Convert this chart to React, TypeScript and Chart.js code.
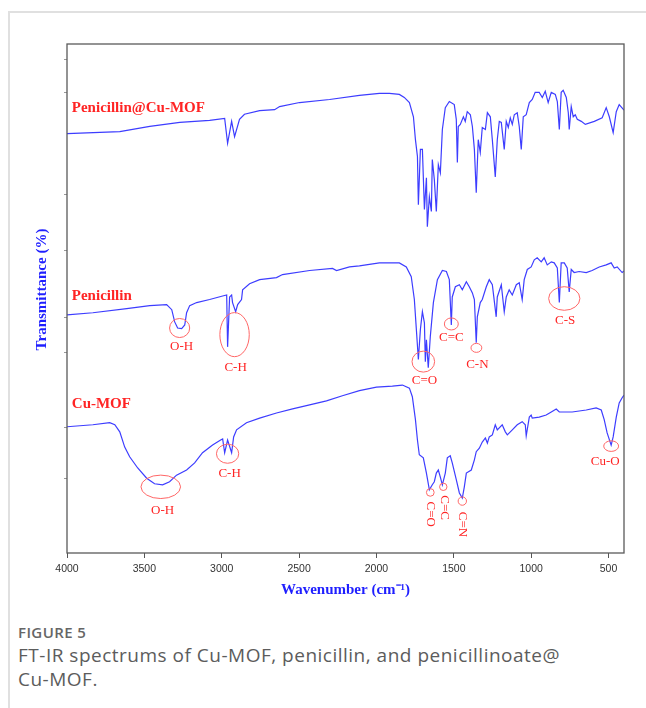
import React, { useEffect, useRef } from "react";
import { Chart, registerables } from "chart.js";
Chart.register(...registerables);

// [wavenumber (cm-1), transmittance (arbitrary offset units)]
const penicillinCuMOF: [number, number][] = [
  [4000, 82.4], [3659, 82.8], [3465, 83.8], [3271, 84.6], [3078, 85.0], [2981, 85.4], [2962, 80.5], [2936, 84.8],
  [2917, 81.8], [2885, 85.2], [2853, 86.2], [2755, 86.9], [2658, 87.1], [2626, 87.7], [2497, 88.5], [2303, 89.1],
  [2110, 89.9], [1981, 90.3], [1916, 90.3], [1852, 90.1], [1820, 89.5], [1787, 88.5], [1761, 85.7], [1748, 81.2],
  [1735, 77.9], [1729, 68.4], [1716, 79.3], [1703, 79.3], [1690, 67.5], [1677, 73.7], [1671, 64.1], [1658, 70.0],
  [1645, 67.1], [1639, 77.3], [1626, 73.4], [1613, 67.1], [1600, 76.3], [1587, 74.7], [1574, 83.2], [1555, 87.5],
  [1529, 88.7], [1497, 88.1], [1484, 85.2], [1477, 76.7], [1471, 83.8], [1458, 84.2], [1438, 85.7], [1426, 84.8],
  [1413, 86.7], [1393, 86.1], [1380, 83.8], [1367, 79.3], [1355, 70.8], [1342, 81.2], [1329, 78.7], [1316, 83.6],
  [1296, 83.2], [1283, 86.5], [1264, 85.7], [1251, 81.2], [1232, 73.9], [1219, 81.2], [1206, 84.8], [1193, 84.6],
  [1174, 79.3], [1161, 84.8], [1148, 83.6], [1135, 85.5], [1122, 84.2], [1109, 86.1], [1090, 86.5], [1077, 83.8],
  [1064, 79.3], [1051, 85.7], [1032, 86.1], [1012, 88.5], [993, 89.1], [974, 90.5], [948, 90.5], [928, 89.5],
  [909, 90.7], [890, 88.5], [870, 90.5], [844, 90.1], [831, 88.7], [818, 83.2], [806, 90.5], [793, 90.9],
  [773, 89.5], [760, 86.5], [754, 83.2], [741, 87.7], [728, 85.7], [715, 86.1], [702, 85.2], [676, 84.8],
  [650, 84.2], [592, 84.8], [541, 85.5], [515, 87.5], [495, 85.7], [470, 82.6], [450, 86.7], [431, 88.1], [400, 87.0],
];

const penicillin: [number, number][] = [
  [4000, 46.8], [3833, 47.2], [3614, 48.0], [3465, 48.6], [3356, 48.8], [3323, 47.8], [3304, 45.4], [3285, 44.2],
  [3259, 44.1], [3239, 44.8], [3227, 47.2], [3207, 48.6], [3162, 49.2], [3078, 49.8], [2994, 50.5], [2968, 50.7],
  [2962, 40.5], [2949, 50.3], [2936, 50.7], [2930, 49.2], [2910, 47.4], [2897, 48.8], [2872, 49.8], [2865, 51.7],
  [2820, 52.9], [2755, 53.7], [2646, 54.1], [2607, 54.7], [2432, 55.5], [2284, 55.9], [2258, 55.5], [2174, 56.2],
  [2110, 56.4], [1981, 57.0], [1852, 57.0], [1807, 56.2], [1775, 54.3], [1755, 49.8], [1742, 43.9], [1729, 38.0],
  [1716, 43.9], [1703, 47.4], [1690, 45.2], [1684, 37.6], [1677, 41.9], [1665, 36.4], [1652, 42.5], [1632, 49.2],
  [1606, 53.7], [1574, 55.5], [1548, 55.3], [1529, 53.7], [1516, 44.8], [1510, 50.3], [1490, 52.3], [1464, 52.7],
  [1445, 51.7], [1419, 53.3], [1400, 52.3], [1380, 51.1], [1367, 49.8], [1355, 41.3], [1348, 46.4], [1329, 49.2],
  [1316, 49.8], [1290, 52.3], [1271, 53.7], [1251, 52.7], [1226, 46.4], [1219, 50.3], [1193, 52.7], [1174, 47.4],
  [1161, 50.3], [1142, 51.7], [1122, 50.7], [1096, 52.7], [1077, 53.1], [1058, 49.8], [1045, 53.7], [1025, 55.7],
  [1000, 56.2], [980, 57.6], [961, 58.0], [935, 57.2], [916, 58.0], [896, 56.6], [870, 57.2], [851, 57.0],
  [831, 56.0], [818, 49.2], [806, 57.0], [786, 57.0], [767, 56.0], [754, 51.3], [741, 55.7], [722, 55.1],
  [690, 55.3], [644, 55.1], [606, 55.5], [560, 56.2], [515, 56.6], [483, 57.0], [463, 56.0], [444, 56.2],
  [412, 55.1], [400, 55.4],
];

const cuMOF: [number, number][] = [
  [4000, 24.8], [3833, 25.2], [3724, 25.6], [3691, 25.2], [3659, 23.8], [3627, 20.8], [3595, 18.9], [3543, 16.7],
  [3485, 14.7], [3434, 13.6], [3382, 13.4], [3337, 14.0], [3292, 15.3], [3227, 16.3], [3175, 17.7], [3124, 19.7],
  [3059, 21.2], [3007, 22.2], [2994, 22.4], [2981, 19.7], [2962, 22.2], [2936, 19.7], [2923, 22.8], [2904, 24.2],
  [2840, 25.6], [2755, 26.5], [2646, 27.5], [2542, 28.3], [2432, 29.1], [2323, 29.9], [2220, 30.9], [2110, 31.9],
  [2000, 32.6], [1897, 32.8], [1832, 33.0], [1787, 32.4], [1768, 30.7], [1748, 26.2], [1735, 22.2], [1723, 19.3],
  [1697, 18.7], [1677, 15.7], [1658, 12.4], [1639, 13.4], [1626, 14.0], [1613, 15.7], [1600, 16.3], [1587, 14.9],
  [1574, 13.4], [1555, 15.7], [1542, 18.7], [1523, 19.1], [1510, 17.7], [1484, 14.4], [1464, 11.8], [1445, 10.8],
  [1432, 13.0], [1419, 15.7], [1387, 16.3], [1367, 18.3], [1355, 19.9], [1335, 20.6], [1316, 21.8], [1296, 22.6],
  [1283, 21.6], [1271, 22.8], [1251, 23.2], [1232, 25.2], [1219, 24.2], [1187, 25.2], [1167, 23.8], [1154, 23.2],
  [1122, 24.2], [1090, 25.2], [1058, 25.8], [1038, 25.2], [1032, 23.0], [1012, 26.7], [1000, 27.1], [993, 26.5],
  [948, 26.7], [903, 27.1], [870, 27.7], [838, 28.3], [818, 27.7], [735, 27.7], [644, 28.1], [580, 28.5],
  [547, 28.1], [528, 26.2], [509, 23.6], [483, 21.2], [470, 22.8], [450, 26.7], [431, 29.5], [412, 30.5], [400, 31.0],
];

const xTickValues = [4000, 3500, 3000, 2500, 2000, 1500, 1000, 500];
const yTickValues = [97.0, 90.5, 70.4, 59.4, 46.2, 39.3, 24.6, 14.7];

const sampleLabels = [
  { text: "Penicillin@Cu-MOF", wn: 3969, t: 87.5 },
  { text: "Penicillin", wn: 3969, t: 50.5 },
  { text: "Cu-MOF", wn: 3969, t: 29.3 },
];

// band marks: centre (wn, t), half-size (dwn, dt), label position (lwn, lt)
const bands = [
  { text: "O-H", wn: 3272, t: 44.2, dwn: 65, dt: 1.87, lwn: 3259, lt: 40.5, vertical: false },
  { text: "C-H", wn: 2917, t: 42.9, dwn: 95, dt: 4.33, lwn: 2910, lt: 36.4, vertical: false },
  { text: "C=O", wn: 1697, t: 37.6, dwn: 73, dt: 2.06, lwn: 1690, lt: 33.8, vertical: false },
  { text: "C=C", wn: 1516, t: 45.0, dwn: 45, dt: 1.18, lwn: 1516, lt: 42.3, vertical: false },
  { text: "C-N", wn: 1354, t: 40.3, dwn: 35, dt: 0.88, lwn: 1348, lt: 37.0, vertical: false },
  { text: "C-S", wn: 786, t: 50.0, dwn: 101, dt: 2.32, lwn: 780, lt: 45.6, vertical: false },
  { text: "O-H", wn: 3394, t: 13.0, dwn: 128, dt: 2.3, lwn: 3382, lt: 8.3, vertical: false },
  { text: "C-H", wn: 2962, t: 19.5, dwn: 72, dt: 1.87, lwn: 2949, lt: 15.7, vertical: false },
  { text: "C=O", wn: 1652, t: 11.9, dwn: 25, dt: 0.75, lwn: 1652, lt: 7.6, vertical: true },
  { text: "C=C", wn: 1568, t: 13.0, dwn: 24, dt: 0.72, lwn: 1562, lt: 8.9, vertical: true },
  { text: "C=N", wn: 1445, t: 10.2, dwn: 27, dt: 0.82, lwn: 1445, lt: 5.6, vertical: true },
  { text: "Cu-O", wn: 483, t: 21.0, dwn: 48, dt: 1.04, lwn: 521, lt: 17.9, vertical: false },
];

const SPECTRUM_COLOR = "#3d3dff";
const RED = "#ff2424";
const ELLIPSE_RED = "#ff6666";
const TITLE_BLUE = "#1f1fff";

const overlayPlugin = {
  id: "overlay",
  afterDraw(chart: any) {
    const { ctx, chartArea, scales } = chart;
    const { left, top, right, bottom } = chartArea;
    const xs = scales.x;
    const ys = scales.y;
    ctx.save();
    // plot frame
    ctx.strokeStyle = "#5a5a5a";
    ctx.lineWidth = 1.3;
    ctx.strokeRect(left, top, right - left, bottom - top);

    // sample labels
    ctx.fillStyle = RED;
    ctx.font = 'bold 15px "Liberation Serif", "Times New Roman", serif';
    ctx.textAlign = "left";
    ctx.textBaseline = "middle";
    sampleLabels.forEach((s) => {
      ctx.fillText(s.text, xs.getPixelForValue(s.wn), ys.getPixelForValue(s.t));
    });

    // band ellipses & labels
    ctx.font = '13px "Liberation Serif", "Times New Roman", serif';
    ctx.textAlign = "center";
    bands.forEach((b) => {
      const cx = xs.getPixelForValue(b.wn);
      const cy = ys.getPixelForValue(b.t);
      const rx = Math.abs(xs.getPixelForValue(b.wn + b.dwn) - cx);
      const ry = Math.abs(ys.getPixelForValue(b.t + b.dt) - cy);
      ctx.strokeStyle = ELLIPSE_RED;
      ctx.lineWidth = 1;
      ctx.beginPath();
      ctx.ellipse(cx, cy, rx, ry, 0, 0, Math.PI * 2);
      ctx.stroke();
      const lx = xs.getPixelForValue(b.lwn);
      const ly = ys.getPixelForValue(b.lt);
      ctx.fillStyle = RED;
      if (b.vertical) {
        ctx.save();
        ctx.translate(lx, ly);
        ctx.rotate(Math.PI / 2);
        ctx.fillText(b.text, 0, 0);
        ctx.restore();
      } else {
        ctx.fillText(b.text, lx, ly);
      }
    });

    // y-axis title
    ctx.save();
    ctx.fillStyle = TITLE_BLUE;
    ctx.font = 'bold 15px "Liberation Serif", "Times New Roman", serif';
    ctx.textAlign = "center";
    ctx.textBaseline = "middle";
    ctx.translate(left - 25, (top + bottom) / 2 - 9);
    ctx.rotate(-Math.PI / 2);
    ctx.fillText("Transmittance (%)", 0, 0);
    ctx.restore();

    ctx.restore();
  },
};

const toXY = (arr: [number, number][]) => arr.map(([x, y]) => ({ x, y }));

export default function App() {
  const canvasRef = useRef<HTMLCanvasElement | null>(null);

  useEffect(() => {
    if (!canvasRef.current) return;
    const ds = (label: string, data: [number, number][]) => ({
      label,
      data: toXY(data),
      borderColor: SPECTRUM_COLOR,
      borderWidth: 1.2,
      pointRadius: 0,
      tension: 0,
      fill: false,
    });
    const chart = new Chart(canvasRef.current, {
      type: "line",
      data: {
        datasets: [
          ds("Penicillin@Cu-MOF", penicillinCuMOF),
          ds("Penicillin", penicillin),
          ds("Cu-MOF", cuMOF),
        ],
      },
      options: {
        responsive: false,
        animation: false,
        layout: { padding: { top: 31, right: 22, left: 0, bottom: 0 } },
        plugins: { legend: { display: false }, tooltip: { enabled: false } },
        scales: {
          x: {
            type: "linear",
            reverse: true,
            min: 400,
            max: 4000,
            afterBuildTicks: (s: any) => {
              s.ticks = xTickValues.map((v) => ({ value: v }));
            },
            afterFit: (s: any) => {
              s.height = 50;
            },
            grid: { drawOnChartArea: false, drawTicks: true, tickLength: 5, color: "#555" },
            border: { display: false },
            ticks: {
              font: { family: '"Liberation Sans", Arial, sans-serif', size: 10.5 },
              color: "#333",
              padding: 5,
              maxRotation: 0,
              autoSkip: false,
              callback: (v: any) => String(v),
            },
            title: {
              display: true,
              text: "Wavenumber (cm\u207B\u00B9)",
              color: TITLE_BLUE,
              font: { family: '"Liberation Serif", "Times New Roman", serif', size: 15, weight: "bold" },
              padding: { top: 4, bottom: 4 },
            },
          },
          y: {
            type: "linear",
            min: 0,
            max: 100,
            afterBuildTicks: (s: any) => {
              s.ticks = yTickValues.map((v) => ({ value: v }));
            },
            afterFit: (s: any) => {
              s.width = 57;
            },
            grid: { drawOnChartArea: false, drawTicks: true, tickLength: 3, color: "#999" },
            border: { display: false },
            ticks: { display: false },
          },
        },
      } as any,
      plugins: [overlayPlugin],
    });
    return () => chart.destroy();
  }, []);

  return (
    <div>
      <div
        style={{
          position: "absolute",
          left: 8,
          top: 11,
          width: 638,
          height: 697,
          borderTop: "2px solid #e0e0e0",
          borderLeft: "2px solid #e0e0e0",
          boxSizing: "border-box",
        }}
      />
      <canvas
        ref={canvasRef}
        width={636}
        height={590}
        style={{ position: "absolute", left: 10, top: 13, width: 636, height: 590 }}
      />
      <div
        style={{
          position: "absolute",
          left: 18,
          top: 622,
          fontFamily: '"Open Sans", "Noto Sans", sans-serif',
          fontSize: 15,
          lineHeight: "20px",
          fontWeight: 600,
          letterSpacing: "0.4px",
          color: "#666",
        }}
      >
        FIGURE 5
      </div>
      <div
        style={{
          position: "absolute",
          left: 18,
          top: 643,
          fontFamily: '"Open Sans", "Noto Sans", sans-serif',
          fontSize: 19,
          lineHeight: "24px",
          letterSpacing: "0.5px",
          color: "#5c5c5c",
          whiteSpace: "nowrap",
        }}
      >
        FT-IR spectrums of Cu-MOF, penicillin, and penicillinoate@
        <br />
        Cu-MOF.
      </div>
    </div>
  );
}
